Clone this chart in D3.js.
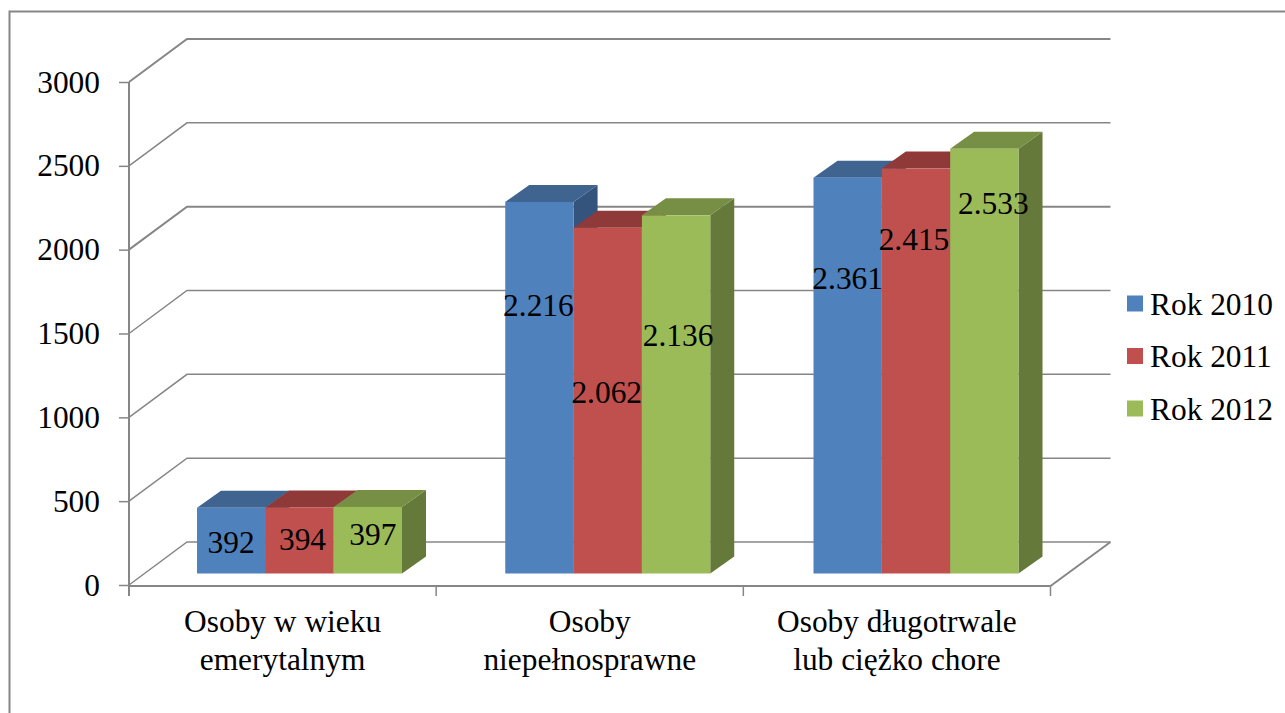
<!DOCTYPE html>
<html>
<head>
<meta charset="utf-8">
<script src="https://cdn.jsdelivr.net/npm/d3@7"></script>
<style>
  body { margin: 0; background: #fff; }
  text { font-family: "Liberation Serif", serif; fill: #000; }
  .domain, .tick line, .grid, .frame { stroke: #868686; fill: none; }
</style>
</head>
<body>
<div id="chart"></div>
<script>
var categories = ["Osoby w wieku emerytalnym", "Osoby niepełnosprawne", "Osoby długotrwale lub ciężko chore"];
var categoryLines = [["Osoby w wieku", "emerytalnym"], ["Osoby", "niepełnosprawne"], ["Osoby długotrwale", "lub ciężko chore"]];
var seriesNames = ["Rok 2010", "Rok 2011", "Rok 2012"];
var values2010 = [392, 2216, 2361];
var values2011 = [394, 2062, 2415];
var values2012 = [397, 2136, 2533];
var yTicks = [0, 500, 1000, 1500, 2000, 2500, 3000];

var seriesValues = [values2010, values2011, values2012];

var width = 1285, height = 713;
var fontSize = 31.4;

// 3d look: how far the back wall and the bars are pushed
var wallDx = 58, wallDy = -43;
var wallRight = 1110.5;
var barDx = 24, barDy = -17;
var barLift = 11.5;

// the labels were moved by hand in the original, px from the middle of each bar
var labelShift = [
  [[0, 1], [3, -1], [5, -6]],
  [[-1, -83], [-1, -9], [2, -59]],
  [[0, -98], [-2, -132], [9, -158]]
];

var colors = ["#4f81bd", "#c0504d", "#9bbb59"];
var topColors = ["#3f648f", "#8f3a38", "#768f45"];
var sideColors = ["#34547e", "#7d3331", "#64793a"];

var svg = d3.select("#chart").append("svg")
  .attr("width", width)
  .attr("height", height)
  .style("display", "block");

svg.append("path")
  .attr("class", "frame")
  .attr("stroke-width", 2)
  .attr("d", "M9.5," + height + "V11.5H" + width);

var x = d3.scaleBand().domain(categories).range([129, 1050.5]);
var y = d3.scaleLinear().domain([0, 3000]).range([585, 82]);

// the bar groups sit on a slightly wider step than the axis ticks
var groupX = d3.scalePoint().domain(categories).range([197, 813.5]);
var x1 = d3.scaleBand().domain(seriesNames).range([0, 205]);

var fmt = d3.formatLocale({decimal: ",", thousands: ".", grouping: [3], currency: ["", ""]}).format(",d");

// back wall and floor
var grid = svg.append("g");
grid.selectAll("path")
  .data(yTicks)
  .enter().append("path")
  .attr("class", "grid")
  .attr("stroke-width", function(d) { return d == 3000 || d == 2000 ? 2 : 1.5; })
  .attr("d", function(d) {
    return "M" + x.range()[0] + "," + y(d) + "l" + wallDx + "," + wallDy + "H" + wallRight;
  });

grid.append("path")
  .attr("class", "grid")
  .attr("stroke-width", 2)
  .attr("d", "M" + x.range()[1] + "," + (y(0) + 1) + "L" + wallRight + "," + (y(0) + wallDy));

// axes
var yAxis = d3.axisLeft(y).tickValues(yTicks).tickFormat(d3.format("d")).tickSize(10).tickPadding(19).tickSizeOuter(0);
var gy = svg.append("g").attr("transform", "translate(" + x.range()[0] + ",0)").call(yAxis);
gy.selectAll("text").style("font-size", fontSize + "px").attr("font-family", null);
gy.selectAll(".tick line").attr("stroke-width", 1.5);
gy.select(".domain").attr("stroke-width", 2).attr("d", "M0," + y(3000) + "V" + (y(0) + 11));

var xAxis = d3.axisBottom(x).tickSize(0).tickPadding(0);
var gx = svg.append("g").attr("transform", "translate(0," + (y(0) + 1) + ")").call(xAxis);
gx.select(".domain").attr("stroke-width", 2).attr("d", "M" + x.range()[0] + ",0H" + x.range()[1]);
gx.selectAll(".tick text").each(function(d, i) {
  var t = d3.select(this).text(null).attr("dy", null).style("font-size", fontSize + "px").attr("y", 0);
  categoryLines[i].forEach(function(line, k) {
    t.append("tspan").attr("x", 0).attr("y", 46 + k * 38).text(line);
  });
});

// ticks sit on the band edges, not on the band centres
var edges = categories.map(function(c) { return x(c); }).concat([x.range()[1]]);
svg.append("g").selectAll("line")
  .data(edges)
  .enter().append("line")
  .attr("class", "grid")
  .attr("stroke-width", 1.5)
  .attr("x1", function(d) { return d; })
  .attr("x2", function(d) { return d; })
  .attr("y1", y(0) + 1)
  .attr("y2", y(0) + 11);

// bars
function quad(px, py, w) {
  return "M" + px + "," + py + "h" + w + "l" + barDx + "," + barDy + "h" + (-w) + "z";
}
function side(px, py, h) {
  return "M" + px + "," + py + "l" + barDx + "," + barDy + "v" + h + "l" + (-barDx) + "," + (-barDy) + "z";
}

categories.forEach(function(cat, c) {
  var g = svg.append("g");
  seriesNames.forEach(function(name, s) {
    var v = seriesValues[s][c];
    var bx = groupX(cat) + x1(name);
    var bw = x1.bandwidth();
    var top = y(v) - barLift;
    var bottom = y(0) - barLift;
    g.append("path").attr("fill", sideColors[s]).attr("d", side(bx + bw, top, bottom - top));
    g.append("path").attr("fill", topColors[s]).attr("d", quad(bx, top, bw));
    g.append("rect")
      .attr("x", bx)
      .attr("y", top)
      .attr("width", bw)
      .attr("height", bottom - top)
      .attr("fill", colors[s]);
  });
});

// data labels go above every bar
categories.forEach(function(cat, c) {
  seriesNames.forEach(function(name, s) {
    var v = seriesValues[s][c];
    var mid = (y(v) + y(0)) / 2 - barLift;
    svg.append("text")
      .attr("x", groupX(cat) + x1(name) + x1.bandwidth() / 2 + labelShift[c][s][0])
      .attr("y", mid + labelShift[c][s][1])
      .attr("dy", "0.35em")
      .attr("text-anchor", "middle")
      .style("font-size", fontSize + "px")
      .text(fmt(v));
  });
});

// legend
var legend = svg.append("g").selectAll("g")
  .data(seriesNames)
  .enter().append("g")
  .attr("transform", function(d, i) { return "translate(1127," + (303.5 + i * 52.5) + ")"; });

legend.append("rect")
  .attr("y", -8)
  .attr("width", 16)
  .attr("height", 16)
  .attr("fill", function(d, i) { return colors[i]; });

legend.append("text")
  .attr("x", 23)
  .attr("dy", "0.35em")
  .style("font-size", fontSize + "px")
  .text(function(d) { return d; });
</script>
</body>
</html>
